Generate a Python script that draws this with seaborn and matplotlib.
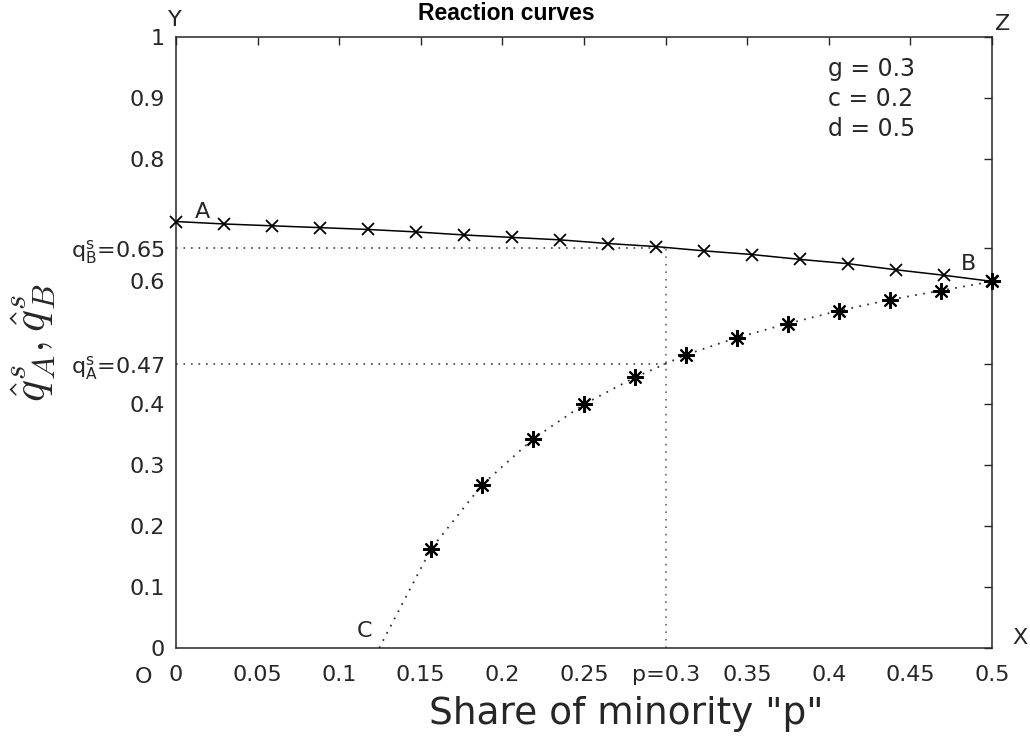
import numpy as np
import pandas as pd
import matplotlib
matplotlib.use("Agg")
import matplotlib.pyplot as plt
import seaborn as sns

# ---- data ----
p_upper = [0.0, 0.0294, 0.0588, 0.0882, 0.1176, 0.1471, 0.1765, 0.2059, 0.2353,
           0.2647, 0.2941, 0.3235, 0.3529, 0.3824, 0.4118, 0.4412, 0.4706, 0.5]
q_upper = [0.698, 0.694, 0.691, 0.688, 0.685, 0.681, 0.676, 0.672, 0.668,
           0.662, 0.657, 0.650, 0.644, 0.636, 0.629, 0.619, 0.610, 0.600]

p_lower_marks = [0.15625, 0.1875, 0.21875, 0.25, 0.28125, 0.3125, 0.34375,
                 0.375, 0.40625, 0.4375, 0.46875, 0.5]
q_lower_marks = [0.162, 0.267, 0.342, 0.399, 0.443, 0.480, 0.508,
                 0.531, 0.552, 0.570, 0.585, 0.600]
p_C, q_C = 0.1245, 0.0
p_lower_line = [p_C] + p_lower_marks
q_lower_line = [q_C] + q_lower_marks

p_star, qA_star, qB_star = 0.3, 0.465, 0.655

x_ticks = [0, 0.05, 0.1, 0.15, 0.2, 0.25, 0.3, 0.35, 0.4, 0.45, 0.5]
x_labels = ["0", "0.05", "0.1", "0.15", "0.2", "0.25", "p=0.3", "0.35", "0.4", "0.45", "0.5"]
y_ticks = [0, 0.1, 0.2, 0.3, 0.4, qA_star, 0.6, qB_star, 0.8, 0.9, 1.0]
y_labels = ["0", "0.1", "0.2", "0.3", "0.4", r"$\mathregular{q_A^s}$=0.47", "0.6",
            r"$\mathregular{q_B^s}$=0.65", "0.8", "0.9", "1"]
params = ["g = 0.3", "c = 0.2", "d = 0.5"]

# ---- style ----
sns.set_theme(style="white")
plt.rcParams["font.family"] = ["DejaVu Sans"]
plt.rcParams["xtick.direction"] = "in"
plt.rcParams["ytick.direction"] = "in"

TXT = "#262626"
W, H = 1030, 736
fig = plt.figure(figsize=(W / 100, H / 100), dpi=100)
ax = fig.add_axes([176 / W, 1 - 648 / H, 816 / W, 611 / H])

up = pd.DataFrame({"p": p_upper, "q": q_upper})
lo_line = pd.DataFrame({"p": p_lower_line, "q": q_lower_line})
lo_mark = pd.DataFrame({"p": p_lower_marks, "q": q_lower_marks})

dot = (0, (1, 3.5))
# reference dotted lines
ax.plot([0, p_star], [qB_star, qB_star], color="#444444", lw=1.2, ls=dot)
ax.plot([0, p_star], [qA_star, qA_star], color="#444444", lw=1.2, ls=dot)
ax.plot([p_star, p_star], [0, qB_star], color="#666666", lw=1.2, ls=dot)

# upper reaction curve
sns.lineplot(data=up, x="p", y="q", ax=ax, color="black", linewidth=1.1,
             linestyle="-", sort=False)
ax.plot(up["p"], up["q"], linestyle="none", marker="x", markersize=9,
        markeredgewidth=1.3, color="black", clip_on=False, zorder=4)

# lower reaction curve
sns.lineplot(data=lo_line, x="p", y="q", ax=ax, color="#333333", linewidth=1.3,
             linestyle=dot, sort=False)
ax.plot(lo_mark["p"], lo_mark["q"], linestyle="none", marker=(8, 2, 0),
        markersize=12, markeredgewidth=1.5, color="black", clip_on=False, zorder=4)

ax.set_xlim(0, 0.5)
ax.set_ylim(0, 1)
ax.set_xticks(x_ticks)
ax.set_xticklabels(x_labels)
ax.set_yticks(y_ticks)
ax.set_yticklabels(y_labels)
ax.tick_params(axis="both", which="both", direction="in", length=6, width=1,
               color="#262626", labelsize=16, labelcolor=TXT,
               top=True, right=True)
ax.tick_params(axis="x", pad=12)
ax.tick_params(axis="y", pad=8)
for s in ax.spines.values():
    s.set_visible(True)
    s.set_color("#262626")
    s.set_linewidth(1.1)

ax.set_xlabel('Share of minority "p"', fontsize=27, color=TXT, va="top")
ax.xaxis.set_label_coords((626 - 176) / 816, -(696 - 648) / 611)
ax.set_ylabel(r"$\hat{q}^s_A, \hat{q}^s_B$", fontsize=33, color=TXT,
              math_fontfamily="cm")
ax.yaxis.set_label_coords(-(176 - 58) / 816, 0.5)

fig.text(506 / W, 1 - 13 / H, "Reaction curves", fontsize=16.5, fontweight="bold",
         family="Liberation Sans", ha="center", va="center", color="black")

# corner / point labels
fig.text(175 / W, 1 - 20 / H, "Y", fontsize=16, ha="center", va="center", color=TXT)
fig.text(1003 / W, 1 - 24 / H, "Z", fontsize=16, ha="center", va="center", color=TXT)
fig.text(1020 / W, 1 - 638 / H, "X", fontsize=16, ha="center", va="center", color=TXT)
fig.text(143 / W, 1 - 677 / H, "O", fontsize=16, ha="center", va="center", color=TXT)
ax.text(0.0165, 0.714, "A", fontsize=16, ha="center", va="center", color=TXT)
ax.text(0.4855, 0.628, "B", fontsize=16, ha="center", va="center", color=TXT)
ax.text(0.1155, 0.028, "C", fontsize=16, ha="center", va="center", color=TXT)
ax.text((828 - 176) / 816, (648 - 57) / 611, "\n".join(params), fontsize=17,
        ha="left", va="top", color=TXT, linespacing=1.32, transform=ax.transAxes)

fig.savefig("out.png", dpi=100)
